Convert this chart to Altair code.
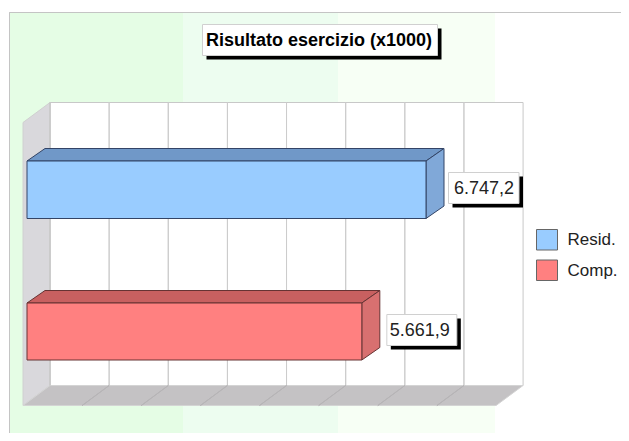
import altair as alt
import pandas as pd

categories = ["Resid.", "Comp."]
values = [6747.2, 5661.9]
value_labels = ["6.747,2", "5.661,9"]
grid_ticks = [0, 1000, 2000, 3000, 4000, 5000, 6000, 7000, 8000]
title_text = "Risultato esercizio (x1000)"
front_colors = ["#99ccff", "#ff8080"]
top_colors = ["#7098c8", "#c86060"]
side_colors = ["#80a8d8", "#d87070"]
edge_colors = ["#334466", "#663333"]
bar_tops = [161, 303]
bar_bottoms = [218.5, 360]
band_edges = [9.5, 183, 338, 495]
band_colors = ["#e5fde5", "#edfdf0", "#f7fff5"]

FONT = "Liberation Sans"
K = 399.0 / 6747.2      # pixels per unit
X0 = 27.0               # pixel of value 0 on the front plane
W, H = 613, 425


def u(px):
    return (px - X0) / K


xs = alt.Scale(domain=[u(8), u(8 + W)], range=[0, W], nice=False, zero=False)
ys = alt.Scale(domain=[8, 8 + H], range=[0, H], nice=False, zero=False)
X = alt.X("x:Q", scale=xs, axis=None)
Y = alt.Y("y:Q", scale=ys, axis=None)
X2 = alt.X2("x2:Q")
Y2 = alt.Y2("y2:Q")


def poly(pts, fill, stroke=None, sw=1.0):
    rows = [{"x": a, "y": b, "i": i} for i, (a, b) in enumerate(list(pts) + [pts[0]])]
    kw = dict(fill=fill, strokeWidth=sw, stroke=stroke if stroke else fill)
    return alt.Chart(pd.DataFrame(rows)).mark_line(**kw).encode(
        x=X, y=Y, order=alt.Order("i:Q")
    )


def box(x0, y0, x1, y1, fill, stroke=None, sw=1.0):
    kw = dict(fill=fill, strokeWidth=sw if stroke else 0)
    if stroke:
        kw["stroke"] = stroke
    df = pd.DataFrame([{"x": u(x0), "x2": u(x1), "y": y0, "y2": y1}])
    return alt.Chart(df).mark_rect(**kw).encode(x=X, x2=X2, y=Y, y2=Y2)


def line(x0, y0, x1, y1, color, sw=1.0):
    return poly([(u(x0), y0), (u(x1), y1)], "transparent", color, sw)


def label(px, py, s, size, weight="normal", color="#111111", align="left"):
    df = pd.DataFrame([{"x": u(px), "y": py, "t": s}])
    return alt.Chart(df).mark_text(
        font=FONT, fontSize=size, fontWeight=weight, color=color,
        align=align, baseline="middle",
    ).encode(x=X, y=Y, text="t:N")


def labelled_box(x0, y0, x1, y1, s, size, tx, weight="normal", color="#222222"):
    return [
        box(x0 + 4, y0 + 4, x1 + 4, y1 + 4, "#000000"),
        box(x0, y0, x1, y1, "#ffffff", "#d0d0d0", 1),
        label(tx, (y0 + y1) / 2 + 0.5, s, size, weight, color),
    ]


layers = []

# page background bands and frame
for i, c in enumerate(band_colors):
    layers.append(box(band_edges[i], 12.5, band_edges[i + 1], 8 + H, c))
layers.append(line(9.5, 12.5, 8 + W, 12.5, "#c4c4c4"))
layers.append(line(9.5, 12.5, 9.5, 8 + H, "#c4c4c4"))

# 3D box: back wall, left wall, floor
DX, DY = 27.0, 20.0
BX = X0 - 4 + DX        # pixel of value 0 on the back wall
WT, WB = 102.5, 385.5
back = lambda v: BX + v * K
layers.append(box(back(0), WT, back(grid_ticks[-1]), WB, "#ffffff", "#c8c8c8", 1))
layers.append(poly([(u(BX), WT), (u(BX - DX), WT + DY), (u(BX - DX), WB + DY), (u(BX), WB)],
                   "#d9d8dc", "#d0d0d0", 1))
layers.append(poly([(u(BX), WB), (u(back(grid_ticks[-1])), WB),
                    (u(back(grid_ticks[-1]) - DX), WB + DY), (u(BX - DX), WB + DY)],
                   "#c4c2c4", "#d4d4d4", 1))
for t in grid_ticks[1:-1]:
    layers.append(line(back(t), WT, back(t), WB, "#cccccc"))
    layers.append(line(back(t), WB, back(t) - DX, WB + DY, "#b6b4b6"))
layers.append(line(BX, WT, BX, WB, "#c8c8c8", 1.5))

# bars
BDX, BDY = 18.0, 12.5
for i, v in enumerate(values):
    t, b = bar_tops[i], bar_bottoms[i]
    e = edge_colors[i]
    d = BDX / K
    layers.append(poly([(0, t), (d, t - BDY), (v + d, t - BDY), (v, t)], top_colors[i], e, 1))
    layers.append(poly([(v, t), (v + d, t - BDY), (v + d, b - BDY), (v, b)], side_colors[i], e, 1))
    df = pd.DataFrame([{"x": 0, "x2": v, "y": t, "y2": b}])
    layers.append(alt.Chart(df).mark_rect(fill=front_colors[i], stroke=e, strokeWidth=1)
                  .encode(x=X, x2=X2, y=Y, y2=Y2))
    lx = X0 + v * K + 22
    layers += labelled_box(lx + 0.5 + (0 if i == 0 else 2.5), t + 11.5, lx + (71 if i == 0 else 73), t + 42.5,
                           value_labels[i], 18, lx + (6 if i == 0 else 6))

# title
layers += labelled_box(202.5, 24.5, 437.5, 55.5, title_text, 18, 206, "bold", "#000000")

# legend
for i, name in enumerate(categories):
    top = 229.5 + i * 30.5
    layers.append(box(536.5, top, 557.5, top + 20.5, front_colors[i], "#666666", 1))
    layers.append(label(567.5, top + 10.5, name, 17, color="#222222"))

chart = alt.layer(*layers).properties(
    width=W, height=H, padding=0, autosize=alt.AutoSizeParams(type="none"),
    background="#ffffff",
).configure_view(stroke=None)

chart.save("out.html", embed_options={"renderer": "svg", "actions": False})
